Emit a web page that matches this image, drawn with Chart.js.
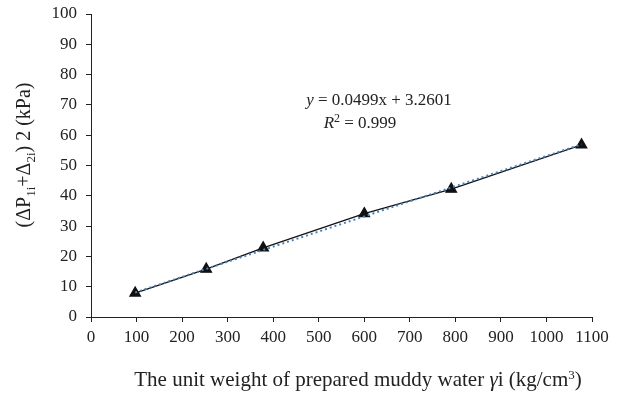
<!DOCTYPE html>
<html>
<head>
    <title>Unit weight chart</title>
    <script src="https://cdn.jsdelivr.net/npm/chart.js"></script>
    <style>
        body { margin: 0; background: #fff; }
        #wrap { width: 628px; height: 396px; }
    </style>
</head>
<body>
    <div id="wrap"><canvas id="unitChart"></canvas></div>

    <script>
        // measured points (x = unit weight, y = pressure)
        var unitWeight = [97, 253, 378, 600, 791, 1077];
        var pressure = [7.9, 15.8, 22.8, 34.1, 42.2, 56.8];
        // linear trendline, drawn between first and last x
        var trendX = [97, 1077];
        var trendY = [8.1, 57.0];
        var xTicks = [0, 100, 200, 300, 400, 500, 600, 700, 800, 900, 1000, 1100];
        var yTicks = [0, 10, 20, 30, 40, 50, 60, 70, 80, 90, 100];

        var serif = '"Liberation Serif", "DejaVu Serif", serif';

        // draws text pieces one after another, each with its own style / offset
        function drawRuns(ctx, runs, x, y, align) {
            var total = 0;
            runs.forEach(function (r) {
                ctx.font = r.font;
                r.w = ctx.measureText(r.t).width;
                total += r.w;
            });
            var cx = align === 'center' ? x - total / 2 : x;
            runs.forEach(function (r) {
                ctx.font = r.font;
                ctx.fillText(r.t, cx, y + (r.dy || 0));
                cx += r.w;
            });
        }

        var labelsPlugin = {
            id: 'labels',
            afterDraw: function (chart) {
                var ctx = chart.ctx;
                var fe = '17px ' + serif;
                var fei = 'italic 17px ' + serif;
                var f = '20px ' + serif;
                var fs = '13px ' + serif;
                ctx.save();
                ctx.fillStyle = '#222';
                ctx.textBaseline = 'alphabetic';
                ctx.textAlign = 'left';

                // equation
                drawRuns(ctx, [
                    { t: 'y', font: fei },
                    { t: ' = 0.0499x + 3.2601', font: fe }
                ], 379, 105, 'center');
                drawRuns(ctx, [
                    { t: 'R', font: fei },
                    { t: '2', font: '12px ' + serif, dy: -6 },
                    { t: ' = 0.999', font: fe }
                ], 360, 128, 'center');

                // x title
                drawRuns(ctx, [
                    { t: 'The unit weight of prepared muddy water ', font: '21px ' + serif },
                    { t: 'γ', font: 'italic 21px ' + serif },
                    { t: 'i (kg/cm', font: '21px ' + serif },
                    { t: '3', font: fs, dy: -7 },
                    { t: ')', font: '21px ' + serif }
                ], 358, 386, 'center');

                // y title (rotated)
                ctx.translate(30, 155);
                ctx.rotate(-Math.PI / 2);
                drawRuns(ctx, [
                    { t: '(ΔP', font: f },
                    { t: '1i', font: fs, dy: 5 },
                    { t: '+Δ', font: f },
                    { t: '2i', font: fs, dy: 5 },
                    { t: ') 2 (kPa)', font: f }
                ], 0, 0, 'center');
                ctx.restore();
            }
        };

        var axisStyle = {
            display: true,
            drawOnChartArea: false,
            drawTicks: true,
            tickLength: 5,
            color: '#222',
            lineWidth: 1
        };

        var unitChart = new Chart(document.getElementById('unitChart'), {
            type: 'scatter',
            data: {
                datasets: [{
                    label: 'Trend',
                    data: trendX.map((x, i) => ({ x: x, y: trendY[i] })),
                    showLine: true,
                    borderColor: '#4f81bd',
                    borderWidth: 2,
                    borderDash: [2, 3],
                    pointRadius: 0,
                    order: 1
                }, {
                    label: 'Measured',
                    data: unitWeight.map((x, i) => ({ x: x, y: pressure[i] })),
                    showLine: true,
                    borderColor: '#111',
                    borderWidth: 1.3,
                    pointStyle: 'triangle',
                    pointRadius: 6,
                    pointBackgroundColor: '#111',
                    pointBorderColor: '#111',
                    order: 2
                }]
            },
            plugins: [labelsPlugin],
            options: {
                responsive: true,
                maintainAspectRatio: false,
                animation: false,
                layout: { padding: { top: 14, right: 36, left: 0, bottom: 0 } },
                plugins: {
                    legend: { display: false },
                    tooltip: { enabled: false }
                },
                scales: {
                    x: {
                        type: 'linear',
                        min: 0,
                        max: 1100,
                        afterBuildTicks: function (s) { s.ticks = xTicks.map(v => ({ value: v })); },
                        grid: axisStyle,
                        border: { color: '#222', width: 1 },
                        ticks: {
                            color: '#222',
                            font: { family: serif, size: 17 },
                            padding: 5,
                            maxRotation: 0,
                            autoSkip: false,
                            callback: function (v) { return String(v); }
                        },
                        afterFit: function (s) { s.height = 79; s.paddingLeft = 0; s.paddingRight = 0; }
                    },
                    y: {
                        min: 0,
                        max: 100,
                        afterBuildTicks: function (s) { s.ticks = yTicks.map(v => ({ value: v })); },
                        grid: axisStyle,
                        border: { color: '#222', width: 1 },
                        ticks: {
                            color: '#222',
                            font: { family: serif, size: 17 },
                            padding: 9,
                            callback: function (v) { return String(v); }
                        },
                        afterFit: function (s) { s.width = 91; s.paddingTop = 0; s.paddingBottom = 0; }
                    }
                }
            }
        });
    </script>
</body>
</html>
